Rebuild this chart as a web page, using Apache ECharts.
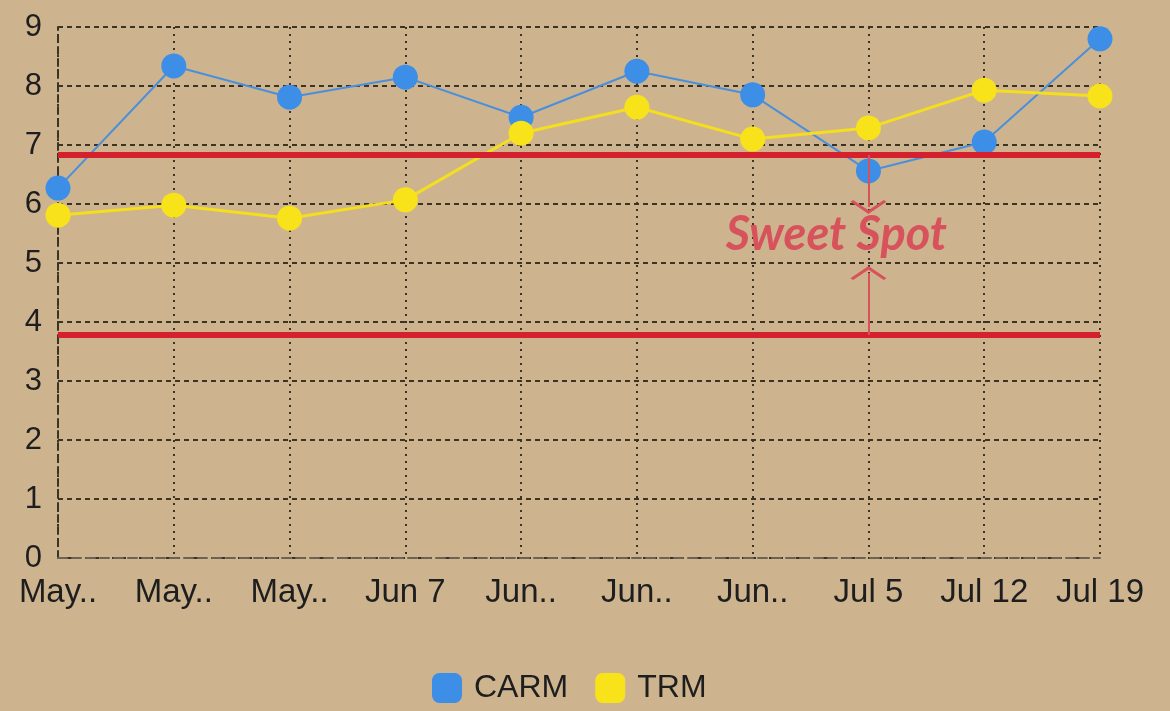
<!DOCTYPE html>
<html>
<head>
<meta charset="utf-8">
<script src="https://cdn.jsdelivr.net/npm/echarts@6/dist/echarts.min.js"></script>
<style>
  html, body { margin: 0; padding: 0; background: #cdb48f; }
  #chart { width: 1170px; height: 711px; }
</style>
</head>
<body>
<div id="chart"></div>
<script>
// labels as shown on the axis
var weeks = ['May..', 'May..', 'May..', 'Jun 7', 'Jun..', 'Jun..', 'Jun..', 'Jul 5', 'Jul 12', 'Jul 19'];
var carm = [6.27, 8.34, 7.81, 8.15, 7.47, 8.25, 7.85, 6.56, 7.05, 8.8];
var trm = [5.81, 5.98, 5.76, 6.07, 7.2, 7.64, 7.1, 7.29, 7.93, 7.83];
var spotHigh = 6.83;
var spotLow = 3.78;
var arrowAt = 7;
var arrowTopEnd = 5.95;
var arrowLowEnd = 4.83;
var labelY = 5.47;

var chevron = 'path://M0,10 L10,0 L20,10 L18.5,11.5 L10,3 L1.5,11.5 Z';
var red = '#d5202e';
var pink = '#d8525c';

var chart = echarts.init(document.getElementById('chart'));

var option = {
    backgroundColor: '#cdb48f',
    animation: false,
    grid: { left: 58, right: 70, top: 27, bottom: 153 },
    legend: {
        data: ['CARM', 'TRM'],
        top: 667,
        left: 427,
        icon: 'roundRect',
        itemWidth: 30,
        itemHeight: 30,
        itemGap: 27,
        textStyle: { fontFamily: 'Liberation Sans', fontSize: 32, color: '#1e1e1e', padding: [0, 0, 0, 7] }
    },
    xAxis: {
        type: 'category',
        data: weeks,
        boundaryGap: false,
        axisTick: { show: false },
        axisLine: { lineStyle: { color: '#6b6356', width: 2, type: [9, 5] } },
        axisLabel: { fontFamily: 'Liberation Sans', fontSize: 33, color: '#1e1e1e', margin: 18, interval: 0 },
        splitLine: { show: true, lineStyle: { color: '#3b3424', width: 2, type: [2, 5] } }
    },
    yAxis: {
        type: 'value',
        min: 0,
        max: 9,
        interval: 1,
        axisLine: { show: true, lineStyle: { color: '#3b3424', width: 2, type: [7, 5] } },
        axisTick: { show: false },
        axisLabel: { fontFamily: 'Liberation Sans', fontSize: 31, color: '#1e1e1e', margin: 16 },
        splitLine: { show: true, lineStyle: { color: '#3b3424', width: 2, type: [5, 4] } }
    },
    series: [
        {
            name: 'marks',
            type: 'line',
            data: [],
            z: 1,
            silent: true,
            markLine: {
                silent: true,
                symbol: 'none',
                label: { show: false },
                data: [
                    [{ coord: [0, spotHigh], lineStyle: { color: red, width: 6, type: 'solid' } }, { coord: [9, spotHigh] }],
                    [{ coord: [0, spotLow], lineStyle: { color: red, width: 6, type: 'solid' } }, { coord: [9, spotLow] }],
                    [{ coord: [arrowAt, spotHigh], symbol: 'none', lineStyle: { color: pink, width: 2, type: 'solid' } },
                     { coord: [arrowAt, arrowTopEnd], symbol: chevron, symbolSize: [36, 14] }],
                    [{ coord: [arrowAt, spotLow], symbol: 'none', lineStyle: { color: pink, width: 2, type: 'solid' } },
                     { coord: [arrowAt, arrowLowEnd], symbol: chevron, symbolSize: [36, 14] }]
                ]
            },
            markPoint: {
                silent: true,
                symbol: 'circle',
                symbolSize: 1,
                itemStyle: { color: 'transparent' },
                label: {
                    show: true,
                    position: 'inside',
                    offset: [-32, 0],
                    formatter: 'Sweet Spot',
                    fontFamily: 'Lato',
                    fontStyle: 'italic',
                    fontWeight: 'bold',
                    fontSize: 47,
                    color: pink
                },
                data: [{ coord: [arrowAt, labelY] }]
            }
        },
        {
            name: 'CARM',
            type: 'line',
            data: carm,
            z: 3,
            symbol: 'circle',
            symbolSize: 25,
            lineStyle: { color: '#4a8fdc', width: 2 },
            itemStyle: { color: '#3d8ee6' }
        },
        {
            name: 'TRM',
            type: 'line',
            data: trm,
            z: 3,
            symbol: 'circle',
            symbolSize: 25,
            lineStyle: { color: '#f4de1e', width: 3 },
            itemStyle: { color: '#f8e21a' }
        }
    ]
};

chart.setOption(option);
</script>
</body>
</html>
